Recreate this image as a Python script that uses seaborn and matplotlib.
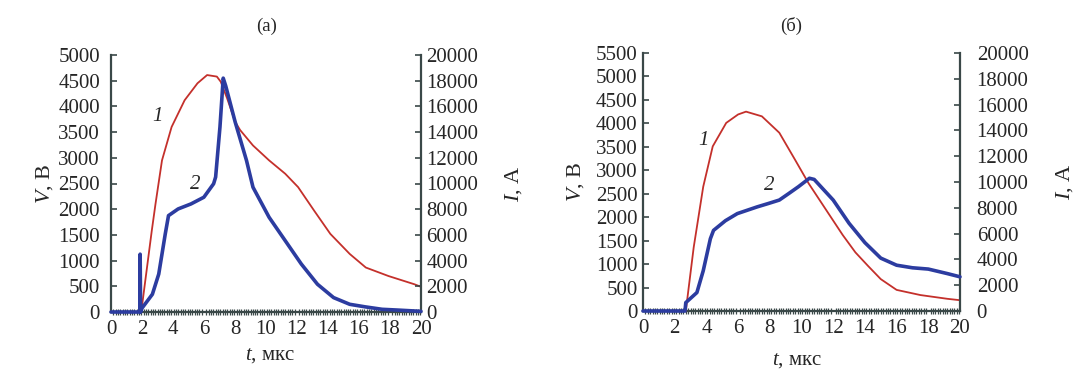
import numpy as np
import pandas as pd
import seaborn as sns
import matplotlib.pyplot as plt
from matplotlib.ticker import MultipleLocator

# panel (a): voltage (curve 1) and current (curve 2)
t_va = [0, 1.95, 2.63, 2.87, 3.29, 3.91, 4.75, 5.58, 6.2, 6.83, 7.08, 7.5, 8.01, 8.33,
        9.16, 10.2, 11.24, 12.07, 13.11, 14.15, 15.4, 16.44, 17.9, 19.57, 20]
v_a = [0, 0, 1580, 2100, 2950, 3600, 4120, 4450, 4610, 4580, 4480, 4150, 3700, 3540,
       3240, 2950, 2690, 2430, 1970, 1520, 1130, 865, 700, 540, 490]
t_ia = [0, 1.86, 1.88, 1.91, 2.0, 2.67, 3.08, 3.5, 3.71, 4.33, 5.16, 5.99, 6.62, 6.75,
        7.03, 7.24, 7.4, 8.01, 8.74, 9.16, 10.2, 11.24, 12.28, 13.32, 14.36, 15.4,
        16.4, 17.49, 18.5, 19.57, 20]
i_a = [0, 0, 4500, 0, 300, 1380, 2950, 6070, 7500, 8020, 8410, 8930, 9980, 10500,
       14400, 18200, 17600, 14790, 11800, 9710, 7370, 5550, 3730, 2160, 1120, 600, 400,
       210, 150, 80, 50]

# panel (b)
t_vb = [0, 2.7, 3.2, 3.8, 4.4, 5.25, 6.0, 6.5, 7.5, 8.6, 9.6, 10.45, 11.7, 12.6, 13.4,
        14.2, 15.0, 16.0, 17.5, 19.2, 20]
v_b = [0, 0, 1360, 2650, 3510, 4010, 4190, 4250, 4150, 3800, 3220, 2720, 2080, 1620,
       1250, 960, 680, 450, 340, 260, 230]
t_ib = [0, 2.65, 2.7, 3.4, 3.8, 4.25, 4.45, 5.2, 5.95, 7.2, 7.9, 8.6, 9.2, 9.8, 10.5,
        10.8, 12.0, 13.0, 14.0, 15.0, 16.0, 17.0, 18.0, 19.2, 20]
i_b = [0, 0, 650, 1430, 3120, 5600, 6250, 7000, 7550, 8070, 8330, 8600, 9110, 9630,
       10290, 10200, 8600, 6800, 5300, 4100, 3550, 3350, 3250, 2900, 2650]

panels = [
    dict(title="(а)", t_v=t_va, v=v_a, t_i=t_ia, i=i_a, vmax=5000,
         pos=[111 / 1080, 1 - 312 / 377, 310 / 1080, 257 / 377],
         lab1=(3.0, 3800), lab2=(5.45, 2480), title_x=267,
         ylab=(-0.18, 1.265), xlab=(0.513, -0.132), lpad=8, rpad=4),
    dict(title="(б)", t_v=t_vb, v=v_b, t_i=t_ib, i=i_b, vmax=5500,
         pos=[643 / 1080, 1 - 311 / 377, 317 / 1080, 258 / 377],
         lab1=(3.84, 3640), lab2=(7.95, 2685), title_x=791,
         ylab=(-0.18, 1.297), xlab=(0.486, -0.156), lpad=4, rpad=12),
]

RED = "#c4302b"
BLUE = "#2c3ca0"
AXC = "#3a4848"

sns.set_style("ticks")
plt.rcParams["font.family"] = ["Liberation Serif", "DejaVu Serif"]
plt.rcParams["mathtext.fontset"] = "custom"
plt.rcParams["mathtext.it"] = "Liberation Serif:italic"
plt.rcParams["mathtext.rm"] = "Liberation Serif"

fig = plt.figure(figsize=(10.8, 3.77), dpi=100)

for p in panels:
    ax = fig.add_axes(p["pos"])
    ax2 = ax.twinx()
    df_v = pd.DataFrame({"t": p["t_v"], "V": p["v"]})
    df_i = pd.DataFrame({"t": p["t_i"], "I": p["i"]})
    sns.lineplot(data=df_v, x="t", y="V", ax=ax, color=RED, lw=1.3, sort=False,
                 errorbar=None, zorder=3)
    sns.lineplot(data=df_i, x="t", y="I", ax=ax2, color=BLUE, lw=2.6, sort=False,
                 errorbar=None, zorder=3)
    for ln in ax.lines + ax2.lines:
        ln.set_clip_on(False)

    ax.set_xlim(0, 20)
    ax.set_ylim(0, p["vmax"])
    ax2.set_ylim(0, 20000)
    ax.xaxis.set_major_locator(MultipleLocator(2))
    ax.xaxis.set_minor_locator(MultipleLocator(0.15))
    ax.yaxis.set_major_locator(MultipleLocator(500))
    ax2.yaxis.set_major_locator(MultipleLocator(2000))

    for a in (ax, ax2):
        a.spines["top"].set_visible(False)
        for s in a.spines.values():
            s.set_color(AXC)
            s.set_linewidth(1.6)
    ax.spines["right"].set_visible(False)
    ax2.spines["left"].set_visible(False)
    ax2.spines["bottom"].set_visible(False)

    ax.tick_params(axis="y", direction="in", length=4, width=1.2, color=AXC,
                   labelsize=15, pad=p["lpad"])
    ax2.tick_params(axis="y", direction="in", length=4, width=1.2, color=AXC,
                    labelsize=15, pad=p["rpad"])
    ax.tick_params(axis="x", which="major", length=0, labelsize=15, pad=6)
    ax.tick_params(axis="x", which="minor", direction="inout", length=4, width=0.9,
                   color=AXC)

    ax.set_xlabel("$t$, мкс", fontsize=15)
    ax.set_ylabel("$V$, В", fontsize=16)
    ax2.set_ylabel("$I$, A", fontsize=16)
    ax.xaxis.set_label_coords(*p["xlab"])
    ax.yaxis.set_label_coords(p["ylab"][0], 0.5)
    ax2.yaxis.set_label_coords(p["ylab"][1], 0.5)

    ax.text(*p["lab1"], "1", fontsize=15, style="italic", ha="center", va="center")
    ax.text(*p["lab2"], "2", fontsize=15, style="italic", ha="center", va="center")
    fig.text(p["title_x"] / 1080, 1 - 26 / 377, p["title"], fontsize=13.5,
             ha="center", va="center")

fig.savefig("out.png", dpi=100)
